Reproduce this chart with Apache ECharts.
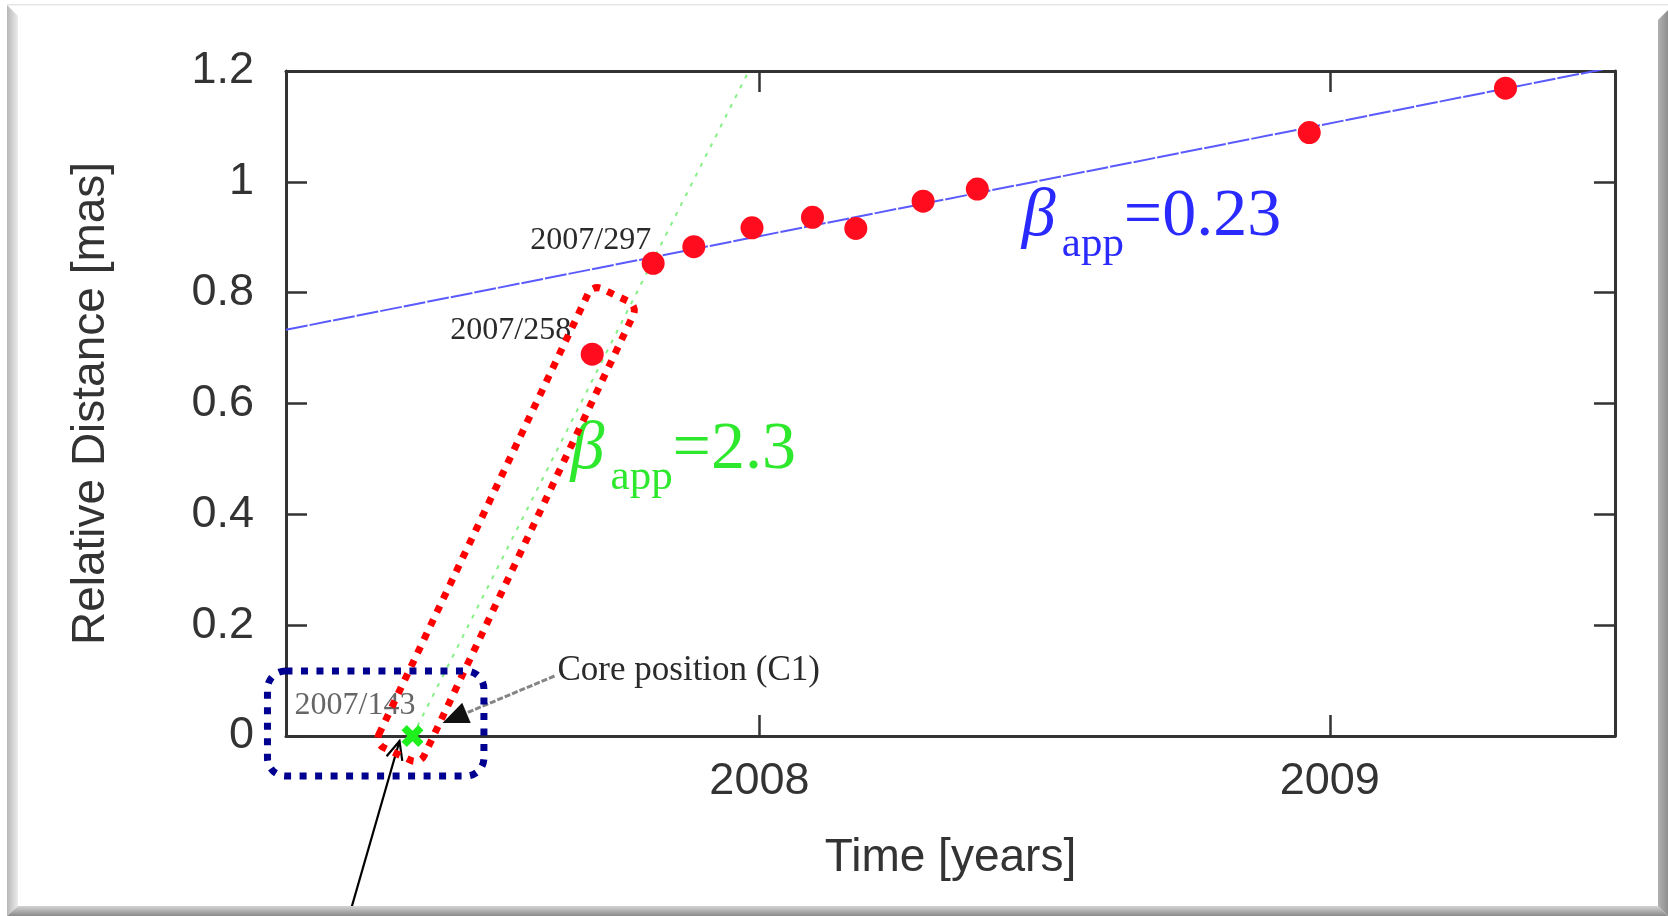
<!DOCTYPE html>
<html>
<head>
<meta charset="utf-8">
<title>Relative Distance vs Time</title>
<script src="https://cdn.jsdelivr.net/npm/echarts@6/dist/echarts.min.js"></script>
<style>
  html, body { margin: 0; padding: 0; background: #ffffff; }
  #chart { width: 1668px; height: 916px; }
</style>
</head>
<body>
<div id="chart"></div>
<script>
// Component epochs that carry a year/day-of-year label, and their distances (mas)
const labelledEpochs = ['2007/258', '2007/297'];
const labelledDist = [0.689, 0.853];
// Remaining epochs (decimal years) and distances (mas)
const otherEpochs = [2007.885, 2007.987, 2008.093, 2008.169, 2008.287, 2008.382, 2008.964, 2009.308];
const otherDist = [0.883, 0.917, 0.936, 0.916, 0.965, 0.987, 1.089, 1.169];
// Core (C1) reference position
const coreEpoch = '2007/143';
const coreDist = 0;
// Apparent speeds of the two fits, and conversion to proper motion
const betaFast = 2.3;
const betaSlow = 0.23;
const muPerBeta = 0.885;          // mas/yr per unit of beta_app
const slowFitRef = [2008.0, 0.902]; // a point on the slow fit
// Axes
const xMin = 2007.17, xMax = 2009.5;
const xTicks = [2008, 2009];
const yMin = 0, yMax = 1.2, yStep = 0.2;

const toYear = s => { const [y, d] = s.split('/').map(Number); return y + d / 365; };

const points = labelledEpochs.map((e, i) => [toYear(e), labelledDist[i]])
  .concat(otherEpochs.map((e, i) => [e, otherDist[i]]));
const coreX = toYear(coreEpoch);
const muSlow = betaSlow * muPerBeta;
const muFast = betaFast * muPerBeta;
const slowLine = [xMin, xMax].map(x => [x, slowFitRef[1] + muSlow * (x - slowFitRef[0])]);
const fastLine = [[coreX, coreDist], [coreX + (yMax - coreDist) / muFast, yMax]];

const AX = '#333333';
const SANS = '"Liberation Sans", Arial, sans-serif';
const SERIF = '"Liberation Serif", "Times New Roman", serif';
const crossPath = 'path://M0,2.4L2.4,0L5,2.6L7.6,0L10,2.4L7.4,5L10,7.6L7.6,10L5,7.4L2.4,10L0,7.6L2.6,5Z';

const chart = echarts.init(document.getElementById('chart'));

const tickStyle = { inside: true, length: 21, lineStyle: { color: AX, width: 2.5 } };
const lineStyleAx = { show: true, onZero: false, lineStyle: { color: AX, width: 3 } };

chart.setOption({
  animation: false,
  backgroundColor: '#ffffff',
  grid: { left: 286, right: 53, top: 71, bottom: 180, containLabel: false, outerBoundsMode: 'none' },
  xAxis: [{
    type: 'value', min: xMin, max: xMax, position: 'bottom',
    axisLine: lineStyleAx,
    axisTick: Object.assign({ customValues: xTicks }, tickStyle),
    axisLabel: { customValues: xTicks, fontSize: 45, color: AX, fontFamily: SANS, margin: 23,
      formatter: v => String(v) },
    splitLine: { show: false },
    name: 'Time [years]', nameLocation: 'middle', nameGap: 99,
    nameTextStyle: { fontSize: 46, color: AX, fontFamily: SANS }
  }, {
    type: 'value', min: xMin, max: xMax, position: 'top',
    axisLine: lineStyleAx,
    axisTick: Object.assign({ customValues: xTicks }, tickStyle),
    axisLabel: { show: false },
    splitLine: { show: false }
  }],
  yAxis: [{
    type: 'value', min: yMin, max: yMax, interval: yStep, position: 'left',
    axisLine: lineStyleAx,
    axisTick: tickStyle,
    axisLabel: { fontSize: 45, color: AX, fontFamily: SANS, margin: 32 },
    splitLine: { show: false },
    name: 'Relative Distance [mas]', nameLocation: 'middle', nameGap: 172, nameRotate: 90,
    nameTextStyle: { fontSize: 46, color: AX, fontFamily: SANS }
  }, {
    type: 'value', min: yMin, max: yMax, interval: yStep, position: 'right',
    axisLine: lineStyleAx,
    axisTick: tickStyle,
    axisLabel: { show: false },
    splitLine: { show: false }
  }],
  series: [
    { type: 'line', data: slowLine, symbol: 'none', silent: true, z: 2,
      lineStyle: { color: '#5a5aff', width: 2, type: [22, 2] } },
    { type: 'line', data: fastLine, symbol: 'none', silent: true, z: 2,
      lineStyle: { color: '#86f086', width: 2, type: [4, 7] } },
    { type: 'scatter', data: points, symbolSize: 23, z: 3,
      itemStyle: { color: '#ff0d1e', opacity: 1 } },
    { type: 'scatter', data: [[coreX, coreDist]], symbol: crossPath, symbolSize: 22, z: 4,
      itemStyle: { color: '#1ef01e', opacity: 1 } }
  ]
});

// ---- annotations, placed from data anchors ----
const px = p => chart.convertToPixel({ xAxisIndex: 0, yAxisIndex: 0 }, p);

function txt(x, y, text, opts) {
  return {
    type: 'text', x, y, z: 60, silent: true,
    style: Object.assign({
      text, fontFamily: SERIF, fontSize: 32, fill: '#2a2a2a',
      align: 'left', verticalAlign: 'middle'
    }, opts)
  };
}

const g = [];

// epoch labels
const p258 = px(points[0]);
const p297 = px(points[1]);
const pCore = px([coreX, coreDist]);
g.push(txt(p297[0] - 2, p297[1] - 23, labelledEpochs[1], { align: 'right' }));
g.push(txt(p258[0] - 21, p258[1] - 24, labelledEpochs[0], { align: 'right' }));
g.push(txt(pCore[0] + 3, pCore[1] - 30, coreEpoch, { align: 'right', fill: '#666' }));
g.push(txt(pCore[0] + 145, pCore[1] - 65, 'Core position (C1)', { fontSize: 35 }));

// beta_app labels
function betaLabel(anchor, value, color) {
  const a = px(anchor);
  return {
    type: 'group', x: a[0], y: a[1], z: 60, silent: true,
    children: [
      { type: 'text', x: 0, y: -23, style: { text: '\u03B2', fontFamily: SERIF, fontStyle: 'italic', fontSize: 68, fill: color, verticalAlign: 'middle' } },
      { type: 'text', x: 40, y: 5, style: { text: 'app', fontFamily: SERIF, fontSize: 43, fill: color, verticalAlign: 'middle' } },
      { type: 'text', x: 102, y: -23, style: { text: '=' + value, fontFamily: SERIF, fontSize: 68, fill: color, verticalAlign: 'middle' } }
    ]
  };
}
g.push(betaLabel([2008.460, 0.895], String(betaSlow), '#2a2aff'));
g.push(betaLabel([2007.669, 0.4746], String(betaFast), '#2ee82e'));

// dotted box along the fast component track
const redEnds = [[2007.365, -0.0325], [2007.747, 0.7957]].map(px);
{
  const dx = redEnds[1][0] - redEnds[0][0], dy = redEnds[1][1] - redEnds[0][1];
  const L = Math.hypot(dx, dy), w = 50;
  g.push({
    type: 'rect', z: 70, silent: true,
    x: (redEnds[0][0] + redEnds[1][0]) / 2, y: (redEnds[0][1] + redEnds[1][1]) / 2,
    rotation: Math.atan2(-dy, dx),
    shape: { x: -L / 2, y: -w / 2, width: L, height: w, r: 10 },
    style: { fill: 'none', stroke: '#ff0000', lineWidth: 7, lineDash: [7, 8] }
  });
}

// dotted box around the core region
const blueA = px([2007.1375, 0.1173]), blueB = px([2007.517, -0.0722]);
g.push({
  type: 'rect', z: 70, silent: true,
  shape: { x: blueA[0], y: blueA[1], width: blueB[0] - blueA[0], height: blueB[1] - blueA[1], r: 18 },
  style: { fill: 'none', stroke: '#000090', lineWidth: 7, lineDash: [7, 8.5] }
});

// arrow from the core caption
{
  const s = [pCore[0] + 142, pCore[1] - 60], t = [pCore[0] + 30, pCore[1] - 13];
  const ux = t[0] - s[0], uy = t[1] - s[1], n = Math.hypot(ux, uy);
  const u = [ux / n, uy / n], q = [-u[1], u[0]];
  const hl = 26, hw = 11;
  const b = [t[0] - u[0] * hl, t[1] - u[1] * hl];
  g.push({ type: 'line', z: 65, silent: true,
    shape: { x1: s[0], y1: s[1], x2: b[0], y2: b[1] },
    style: { stroke: '#858585', lineWidth: 3, lineDash: [6, 2] } });
  g.push({ type: 'polygon', z: 66, silent: true,
    shape: { points: [t, [b[0] + q[0] * hw, b[1] + q[1] * hw], [b[0] - q[0] * hw, b[1] - q[1] * hw]] },
    style: { fill: '#111' } });
}

// long pointer up to the core
{
  const t = [pCore[0] - 13, pCore[1] + 5], s = [pCore[0] - 64, 918];
  const ux = t[0] - s[0], uy = t[1] - s[1], n = Math.hypot(ux, uy);
  const u = [ux / n, uy / n];
  const rot = (v, a) => [v[0] * Math.cos(a) - v[1] * Math.sin(a), v[0] * Math.sin(a) + v[1] * Math.cos(a)];
  const bl = 20;
  const w1 = rot([-u[0], -u[1]], 0.42), w2 = rot([-u[0], -u[1]], -0.42);
  g.push({ type: 'polyline', z: 66, silent: true,
    shape: { points: [s, t] }, style: { stroke: '#000', lineWidth: 2.2 } });
  g.push({ type: 'polyline', z: 66, silent: true,
    shape: { points: [[t[0] + w1[0] * bl, t[1] + w1[1] * bl], t, [t[0] + w2[0] * bl, t[1] + w2[1] * bl]] },
    style: { stroke: '#000', lineWidth: 2.2, fill: 'none' } });
}

// bevelled frame around the figure
g.push({ type: 'rect', z: 80, silent: true, shape: { x: 7, y: 4, width: 1661, height: 1.5 }, style: { fill: '#e6e6e6' } });
g.push({ type: 'polygon', z: 80, silent: true,
  shape: { points: [[7, 5], [18, 16], [18, 906], [7, 916]] },
  style: { fill: { type: 'linear', x: 0, y: 0, x2: 1, y2: 0, colorStops: [{ offset: 0, color: '#b8b8b8' }, { offset: 1, color: '#ececec' }] } } });
g.push({ type: 'polygon', z: 81, silent: true,
  shape: { points: [[7, 916], [18, 906], [1658, 906], [1668, 916]] },
  style: { fill: { type: 'linear', x: 0, y: 0, x2: 0, y2: 1, colorStops: [{ offset: 0, color: '#d4d4d4' }, { offset: 1, color: '#8a8a8a' }] } } });
g.push({ type: 'polygon', z: 82, silent: true,
  shape: { points: [[1658, 20], [1668, 10], [1668, 916], [1658, 906]] },
  style: { fill: { type: 'linear', x: 0, y: 0, x2: 1, y2: 0, colorStops: [{ offset: 0, color: '#b0b0b0' }, { offset: 1, color: '#8e8e8e' }] } } });

chart.setOption({ graphic: g });
</script>
</body>
</html>
